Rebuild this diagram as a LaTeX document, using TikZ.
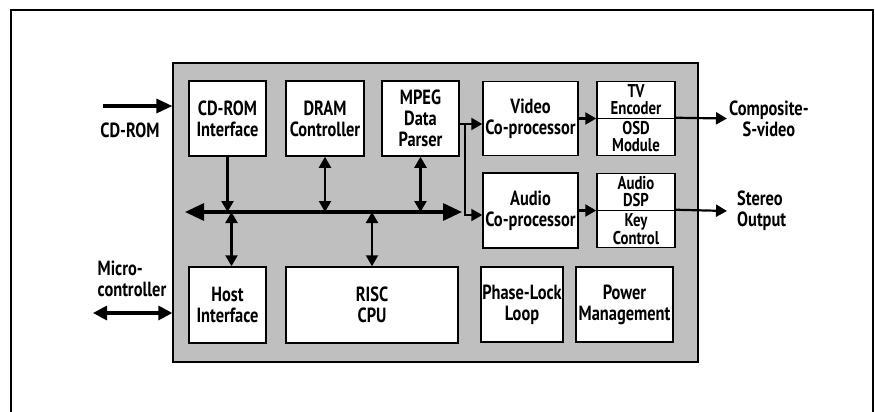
\documentclass[tikz,border=0pt]{standalone}
\usepackage{fontspec}
\setmainfont[FakeStretch=0.8]{PT Sans}
\usetikzlibrary{arrows.meta}

\tikzset{
  blk/.style={draw, line width=1.5pt, fill=white, inner sep=0pt, align=center,
    font=\bfseries\fontsize{20.5}{21}\selectfont},
  half/.style={blk, minimum width=78pt, minimum height=37pt,
    font=\bfseries\fontsize{18.5}{17}\selectfont},
  lbl/.style={inner sep=0pt, align=center, font=\bfseries\fontsize{20.5}{21}\selectfont},
  sig/.style={line width=2.2pt, -{Triangle[length=11pt,width=12pt]}},
  dsig/.style={line width=2.2pt, {Triangle[length=11pt,width=12pt]}-{Triangle[length=11pt,width=12pt]}},
  bus/.style={line width=3.2pt, {Triangle[length=19pt,width=17pt]}-{Triangle[length=19pt,width=17pt]}},
  ext/.style={line width=3.2pt, -{Triangle[length=16pt,width=14pt]}},
  dext/.style={line width=3.2pt, {Triangle[length=14pt,width=14pt]}-{Triangle[length=14pt,width=14pt]}}
}

\begin{document}
\begin{tikzpicture}[x=1pt,y=-1pt]
            \useasboundingbox (0,0) rectangle (875,412);
            \draw[line width=1.5pt] (11,412) -- (11,10) -- (873,10) -- (873,412);

            % chip area
            \node[draw, line width=1.3pt, fill=black!25, inner sep=0pt,
              minimum width=525pt, minimum height=299pt] (chip) at (435.5,212.5) {};

            \node[blk, minimum width=77pt, minimum height=75pt] (cdrom) at (227.5,118.5) {CD-ROM\\Interface};
            \node[blk, minimum width=78pt, minimum height=75pt] (dram) at (325,118.5) {DRAM\\Controller};
            \node[blk, minimum width=77pt, minimum height=75pt] (mpeg) at (420.5,118.5) {MPEG\\Data\\Parser};
            \node[blk, minimum width=95pt, minimum height=74pt] (video) at (530.5,118.5) {Video\\Co-processor};
            \node[half] (tvenc) at (636,100) {TV\\Encoder};
            \node[half] (osd) at (636,137) {OSD\\Module};
            \node[blk, minimum width=95pt, minimum height=75pt] (audio) at (530.5,210.5) {Audio\\Co-processor};
            \node[half] (dsp) at (636,192) {Audio\\DSP};
            \node[half] (keyctl) at (636,229) {Key\\Control};
            \node[blk, minimum width=77pt, minimum height=76pt] (host) at (227.5,305) {Host\\Interface};
            \node[blk, minimum width=172pt, minimum height=76pt] (risc) at (372,305) {RISC\\CPU};
            \node[blk, minimum width=82pt, minimum height=75pt] (pll) at (522,304.5) {Phase-Lock\\Loop};
            \node[blk, minimum width=97pt, minimum height=75pt] (power) at (624.5,304.5) {Power\\Management};

            % bus
            \coordinate (busL) at (185,212);
            \coordinate (busR) at (462,212);
            \draw[bus] (busL) -- (busR);

            \draw[sig] (cdrom) -- (cdrom |- busL);
            \draw[dsig] (dram) -- (dram |- busL);
            \draw[dsig] (mpeg) -- (mpeg |- busL);
            \draw[dsig] ([xshift=4pt]host.north) -- ([xshift=4pt]host.north |- busL);
            \draw[dsig] (risc) -- (risc |- busL);

            \coordinate (fork) at (465,124);
            \draw[sig] (mpeg.east |- fork) -- (video.west |- fork);
            \draw[sig] (fork) |- ([yshift=-4.5pt]audio.west);
            \draw[sig] (video) -- (video -| tvenc.west);
            \draw[sig] (audio) -- (audio -| dsp.west);

            % outputs
            \node[lbl, anchor=west] (composite) at (729,118.5) {Composite-\\S-video};
            \node[lbl, anchor=west, align=left] (stereo) at (737,211) {Stereo\\Output};
            \draw[sig] (osd.north east) -- ([xshift=-2pt]composite.west);
            \draw[sig] (keyctl.north east) -- ([xshift=-10pt]stereo.west);

            % inputs
            \coordinate (cdsrc) at (103,106);
            \draw[ext] (cdsrc) -- (cdsrc -| chip.west);
            \node[lbl] (cdlbl) at (130,130) {CD-ROM};
            \coordinate (mcsrc) at (93,313);
            \draw[dext] (mcsrc) -- (mcsrc -| chip.west);
            \node[lbl, align=left] (mclbl) at (132,279) {Micro-\\controller};
\end{tikzpicture}
\end{document}
